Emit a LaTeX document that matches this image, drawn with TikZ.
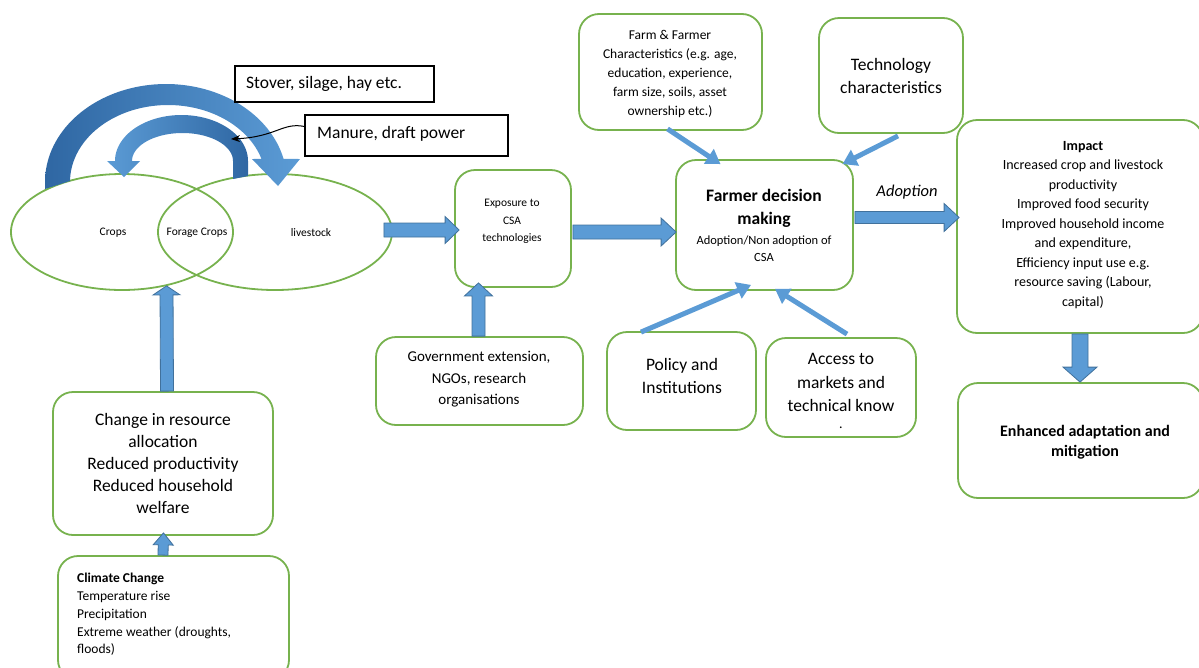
\documentclass[tikz,border=0pt]{standalone}
\usepackage{fontspec}
\setmainfont{Carlito}
\usetikzlibrary{calc,arrows.meta,shapes.geometric}
\definecolor{gboxc}{HTML}{77B24E}
\definecolor{arrl}{HTML}{5B9BD5}
\definecolor{arrd}{HTML}{2F67A3}
\definecolor{arrb}{HTML}{41719C}
\newcommand\fsz[2]{\fontsize{#1}{#2}\selectfont}
% block arrow: start, tip, half body, half head, head length
\newcommand\barrow[5]{%
  \coordinate (hb) at ($(#2)!#5pt!(#1)$);
  \filldraw[blockarr] ($(#1)!#3pt!90:(#2)$) -- ($(hb)!#3pt!90:(#2)$) -- ($(hb)!#4pt!90:(#2)$)
    -- (#2) -- ($(hb)!#4pt!-90:(#2)$) -- ($(hb)!#3pt!-90:(#2)$) -- ($(#1)!#3pt!-90:(#2)$) -- cycle;}
% green rounded box: name, x1, y1, x2, y2
\newcommand\gb[5]{\node[gbox, minimum width={#4-#2}, minimum height={#5-#3}] (#1) at ({(#2+#4)/2},{(#3+#5)/2}) {};}
\tikzset{
  gbox/.style={draw=gboxc, line width=1.8pt, rounded corners=20pt, inner sep=0pt, fill=white},
  bbox/.style={draw=black, line width=1.2pt, inner sep=0pt, fill=white},
  venn/.style={ellipse, draw=gboxc, line width=1.8pt, inner sep=0pt},
  blockarr/.style={fill=arrl, draw=arrb, line width=0.8pt},
  thinarr/.style={draw=arrl, line width=5pt, -{Triangle[width=17pt,length=14pt]}},
  txt/.style={align=center, inner sep=0pt},
}
\begin{document}
\begin{tikzpicture}[x=1pt,y=-1pt]
\useasboundingbox (0,0) rectangle (1199,667);
\clip (0,0) rectangle (1199,667);

% ---- Venn ellipses ----
\node[venn, minimum width=222, minimum height=116] (crops) at (122,232) {};
\node[venn, minimum width=234, minimum height=116] (live) at (275,232) {};
\node[txt, font=\fsz{11.5}{14}] (cropsT) at (113,233) {Crops};
\node[txt, font=\fsz{11.5}{14}] (forT) at (197,233) {Forage Crops};
\node[txt, font=\fsz{11.5}{14}] (liveT) at (311,233) {livestock};

% ---- curved arrows ----
\shade[left color=arrd, right color=arrl]
  (45,189) -- (45,182)
  -- plot[domain=180:346.4, samples=70] ({166+121*cos(\x)},{182+98*sin(\x)})
  -- (300,159) -- (278,186) -- (252,159)
  -- plot[domain=342.6:180, samples=70] ({168+98*cos(\x)},{182+77*sin(\x)})
  -- (70,181) -- cycle;
\shade[left color=arrl, right color=arrd]
  (248,176) -- (248,161)
  -- plot[domain=360:180, samples=60] ({181.5+66.5*cos(\x)},{161+46*sin(\x)})
  -- (107,161) -- (124,177) -- (140,161)
  -- plot[domain=180:360, samples=60] ({182.5+50.5*cos(\x)},{161+28*sin(\x)})
  -- (233,179) -- cycle;

% ---- black label boxes ----
\node[bbox, minimum width=199, minimum height=36] (stover) at (334.5,84) {};
\node[txt, anchor=west, font=\fsz{17.5}{21}] (stoverT) at (246,84) {Stover, silage, hay etc.};
\node[bbox, minimum width=203, minimum height=41] (man) at (406.5,135.5) {};
\node[txt, anchor=west, font=\fsz{17.5}{21}] (manT) at (317,134) {Manure, draft power};
\coordinate (manTip) at (231,139);
\draw[line width=1pt, -{Stealth[length=9pt,width=7pt]}] ($(man.west)+(0,-9)$) .. controls (283,122) and (276,137) .. (manTip);

% ---- green boxes ----
\gb{expo}{455}{170}{571}{287}
\gb{gov}{376}{337}{583}{425}
\gb{dec}{676}{160}{853}{290}
\gb{pol}{607}{332}{756}{430}
\gb{acc}{766}{338}{916}{437}
\gb{farm}{579}{14}{762}{130}
\gb{tech}{819}{18}{963}{133}
\gb{imp}{957}{120}{1203}{333}
\gb{enh}{958}{383}{1203}{498}
\gb{chg}{53}{392}{273}{535}
\gb{clim}{58}{556}{289}{680}

% ---- texts ----
\node[txt, font=\fsz{11.5}{17.5}] (expoT) at (512,221.5) {Exposure to\\CSA\\technologies};
\node[txt, font=\fsz{15}{21.5}] (govT) at (479,379.5) {Government extension,\\NGOs, research\\organisations};
\node[txt, font=\fsz{17.5}{23}\bfseries] (decT) at (764,208.5) {Farmer decision\\making};
\node[txt, font=\fsz{12.5}{17}] (decT2) at (764,248.5) {Adoption/Non adoption of\\CSA};
\node[txt, font=\fsz{17.5}{23}] (polT) at (682,375.5) {Policy and\\Institutions};
\node[txt, font=\fsz{17.5}{23.5}] (accT) at (841,382.5) {Access to\\markets and\\technical know};
\node[txt, font=\fsz{14}{16}] (accDot) at (841,428) {.};
\node[txt, font=\fsz{13.5}{19}] (farmT) at (670,74) {Farm \& Farmer\\Characteristics (e.g. age,\\education, experience,\\farm size, soils, asset\\ownership etc.)};
\node[txt, font=\fsz{17.5}{23}] (techT) at (891,75.5) {Technology\\characteristics};
\node[txt, font=\fsz{14}{19.5}] (impT) at (1083,225) {\textbf{Impact}\\Increased crop and livestock\\productivity\\Improved food security\\Improved household income\\and expenditure,\\Efficiency input use e.g.\\resource saving (Labour,\\capital)};
\node[txt, font=\fsz{16}{20.5}\bfseries] (enhT) at (1085,442) {Enhanced adaptation and\\mitigation};
\node[txt, font=\fsz{17.5}{21.8}] (chgT) at (163,463.5) {Change in resource\\allocation\\Reduced productivity\\Reduced household\\welfare};
\node[txt, font=\fsz{13.5}{17.75}, align=left, anchor=west] (climT) at (77,614.5) {\textbf{Climate Change}\\Temperature rise\\Precipitation\\Extreme weather (droughts,\\floods)};
\node[txt, font=\fsz{16.5}{20}\itshape] (adoptT) at (907,192) {Adoption};

% ---- block arrows ----
\barrow{$(live.east)+(-9,-2)$}{$(expo.west)+(5,1.5)$}{7}{13.5}{14}
\barrow{$(expo.east)+(1,3.5)$}{$(dec.west)+(1,7)$}{7}{14}{15}
\barrow{$(dec.east)+(1,-7.5)$}{$(imp.west)+(3,-9)$}{6}{14}{15}
\barrow{$(gov.north)+(-1,0)$}{$(expo.south)+(-34.5,-5)$}{6.5}{14}{13}
\barrow{$(chg.north)+(4,0)$}{$(crops.south)+(44.5,-5)$}{6.5}{13.5}{9}
\barrow{$(clim.north)+(-10.5,0)$}{$(chg.south)+(0.5,-3)$}{5}{10}{12}
\barrow{$(imp.south)+(0,0)$}{$(enh.north)+(-0.5,0)$}{8}{17}{15}

% ---- thin arrows ----
\draw[thinarr] ($(farm.south)+(-3,-2)$) -- ($(dec.north)+(-44,5)$);
\draw[thinarr] ($(tech.south)+(7,2)$) -- ($(dec.north)+(78,5)$);
\draw[thinarr] ($(pol.north)+(-40.5,1)$) -- ($(dec.south)+(-13.5,-6)$);
\draw[thinarr] ($(acc.north)+(6,-3)$) -- ($(dec.south)+(10.5,-2)$);
\end{tikzpicture}
\end{document}
